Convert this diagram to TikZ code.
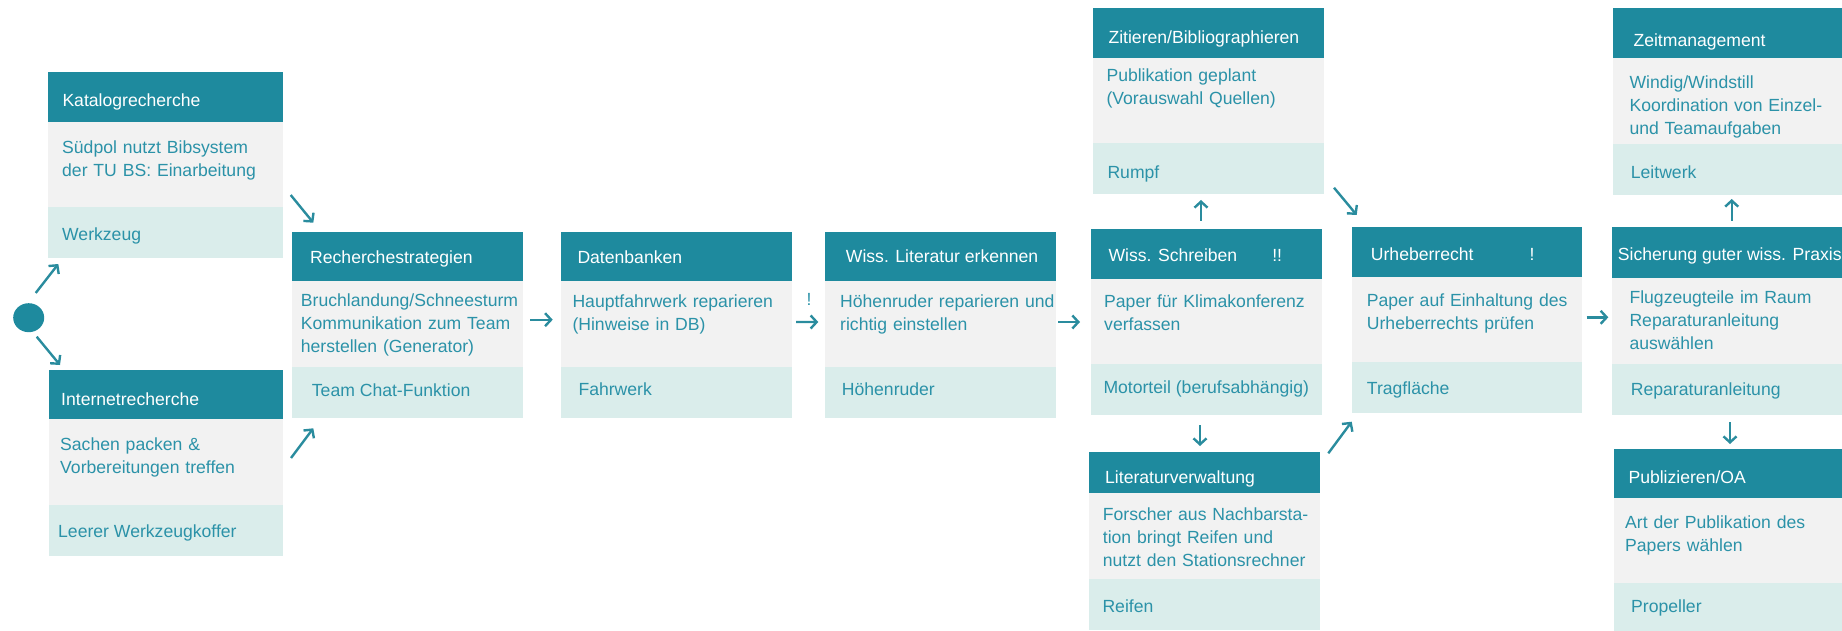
\documentclass[tikz,border=0pt]{standalone}
\usepackage{fontspec}
\setmainfont{Liberation Sans}
\usetikzlibrary{calc,arrows.meta,shapes.geometric}
\definecolor{hdr}{HTML}{1E8A9E}
\definecolor{bodyc}{HTML}{F2F2F2}
\definecolor{footc}{HTML}{DAEDEB}
\definecolor{txt}{HTML}{2B92A8}
\definecolor{arrc}{HTML}{2A8C9E}

\pgfkeys{/card/.cd, hx/.initial=15, hy/.initial=34, bx/.initial=13, by/.initial=27, fx/.initial=15, fy/.initial=31}

\tikzset{
  every node/.style={font=\fontsize{17.6}{23}\selectfont},
  boxbase/.style={anchor=north west, inner sep=0pt, outer sep=0pt, draw=none},
  cardframe/.style={boxbase},
  hdrbox/.style={boxbase, fill=hdr},
  bodybox/.style={boxbase, fill=bodyc, minimum height=85.7},
  footbox/.style={boxbase, fill=footc, minimum height=51},
  hdrtext/.style={anchor=base west, inner sep=0pt, text=white},
  bodytext/.style={anchor=base west, inner sep=0pt, text=txt, text width=240pt, align=left},
  foottext/.style={anchor=base west, inner sep=0pt, text=txt},
  marktext/.style={anchor=base west, inner sep=0pt, text=txt},
  startdot/.style={ellipse, fill=hdr, draw=none, inner sep=0pt, minimum width=31, minimum height=29},
  arr/.style={draw=arrc, line width=2.4pt, -{Straight Barb[length=6pt,width=13pt]}},
}

% #1 options, #2 name, #3 x, #4 y, #5 width, #6 header height, #7 header, #8 body, #9 footer
\newcommand\card[9][]{%
  \begingroup
  \pgfkeys{/card/.cd,#1}%
  \edef\chx{\pgfkeysvalueof{/card/hx}}%
  \edef\chy{\pgfkeysvalueof{/card/hy}}%
  \edef\cbx{\pgfkeysvalueof{/card/bx}}%
  \edef\cby{\pgfkeysvalueof{/card/by}}%
  \edef\cfx{\pgfkeysvalueof{/card/fx}}%
  \edef\cfy{\pgfkeysvalueof{/card/fy}}%
  \node[cardframe, minimum width=#5, minimum height=#6+136.7] (#2) at (#3,#4) {};
  \node[hdrbox, minimum width=#5, minimum height=#6] (#2-h) at (#3,#4) {};
  \node[bodybox, minimum width=#5] (#2-b) at (#2-h.south west) {};
  \node[footbox, minimum width=#5] (#2-f) at (#2-b.south west) {};
  \node[hdrtext] (#2-ht) at ($(#2-h.north west)+(\chx,\chy)$) {#7};
  \node[bodytext] (#2-bt) at ($(#2-b.north west)+(\cbx,\cby)$) {#8};
  \node[foottext] (#2-ft) at ($(#2-f.north west)+(\cfx,\cfy)$) {#9};
  \endgroup}

\begin{document}
\begin{tikzpicture}[x=1pt,y=-1pt]
\useasboundingbox (0,0) rectangle (1842,631);
\clip (0,0) rectangle (1842,631);

\node[startdot] (start) at (28.7,317.7) {};

\card[hx=14.3,hy=34.4,bx=14,by=32.3,fx=14,fy=33.3]{kat}{48}{72.3}{235}{49.4}
  {Katalogrecherche}{Südpol nutzt Bibsystem\\der TU BS: Einarbeitung}{Werkzeug}
\card[hx=12,hy=35,bx=11,by=31,fx=9,fy=32.6]{int}{49}{370}{234}{49}
  {Internetrecherche}{Sachen packen \&\\Vorbereitungen treffen}{Leerer Werkzeugkoffer}
\card[hx=17.7,hy=31.7,bx=8.4,by=25,fx=19.4,fy=30]{rech}{292.3}{232}{231}{49}
  {Recherchestrategien}{Bruchlandung/Schneesturm\\Kommunikation zum Team\\herstellen (Generator)}{Team Chat-Funktion}
\card[hx=16.6,hy=31.7,bx=11.6,by=26,fx=17.6,fy=28.3]{dat}{560.7}{232}{231}{49.3}
  {Datenbanken}{Hauptfahrwerk reparieren\\(Hinweise in DB)}{Fahrwerk}
\card[hx=20.7,hy=30.5,bx=15,by=26,fx=16.7,fy=28.3]{wiss}{825}{232}{231}{49}
  {Wiss. Literatur erkennen}{Höhenruder reparieren und\\richtig einstellen}{Höhenruder}
\card[hx=17.3,hy=32,bx=13,by=28.3,fx=12.3,fy=29]{schr}{1091}{229.3}{230.8}{49.4}
  {Wiss. Schreiben\hspace{35pt}!!}{Paper für Klimakonferenz\\verfassen}{Motorteil (berufsabhängig)}
\card[hx=15,hy=35.7,bx=13,by=24,fx=14,fy=35]{zit}{1093.3}{8.3}{231}{49.4}
  {Zitieren/Bibliographieren}{Publikation geplant\\(Vorauswahl Quellen)}{Rumpf}
\card[hx=15.7,hy=31.7,bx=13.4,by=26.7,fx=13,fy=33.7]{lit}{1089.3}{451.7}{230.7}{41.6}
  {Literaturverwaltung}{Forscher aus Nachbarsta-\\tion bringt Reifen und\\nutzt den Stationsrechner}{Reifen}
\card[hx=18.7,hy=34,bx=14.7,by=29.3,fx=14.7,fy=32.5]{urh}{1352}{226.7}{230.3}{50}
  {Urheberrecht\hspace{56pt}!}{Paper auf Einhaltung des\\Urheberrechts prüfen}{Tragfläche}
\card[hx=6,hy=33.4,bx=17.6,by=25,fx=19,fy=31.7]{sich}{1611.7}{227.3}{240}{51}
  {Sicherung guter wiss. Praxis}{Flugzeugteile im Raum\\Reparaturanleitung\\auswählen}{Reparaturanleitung}
\card[hx=20,hy=38.4,bx=16,by=30,fx=17.4,fy=34.3]{zeit}{1613.3}{8.3}{240}{50}
  {Zeitmanagement}{Windig/Windstill\\Koordination von Einzel-\\und Teamaufgaben}{Leitwerk}
\card[hx=14,hy=34,bx=10.7,by=30.6,fx=16.7,fy=28.7]{pub}{1614.3}{449.3}{240}{48.4}
  {Publizieren/OA}{Art der Publikation des\\Papers wählen}{Propeller}

\node[marktext] (excl) at (806.5,305) {!};

\draw[arr] ($(start)+(7,-24.7)$) -- ($(kat.south west)+(10.3,5.6)$);
\draw[arr] ($(start)+(8,19)$) -- ($(int.north west)+(11,-5)$);
\draw[arr] ($(kat.south east)+(7.7,-63.4)$) -- ($(rech.north west)+(21,-9.3)$);
\draw[arr] ($(int.north east)+(8,88)$) -- ($(rech.south west)+(21,10.6)$);
\draw[arr] ($(rech.east)+(6.7,-5.15)$) -- ($(dat.west)+(-8,-5.3)$);
\draw[arr] ($(dat.east)+(4.3,-3)$) -- ($(wiss.west)+(-6.7,-2.85)$);
\draw[arr] ($(wiss.east)+(2.3,-2.85)$) -- ($(schr.west)+(-11,-0.35)$);
\draw[arr] ($(schr.north)+(-5.4,-8.3)$) -- ($(zit.south)+(-7.8,5.6)$);
\draw[arr] ($(schr.south)+(-6.4,9.6)$) -- ($(lit.north)+(-4.65,-5.7)$);
\draw[arr] ($(zit.south east)+(9.7,-6.7)$) -- ($(urh.north west)+(4.7,-11.7)$);
\draw[arr] ($(lit.north east)+(8.3,1.6)$) -- ($(urh.south west)+(-0.3,8.3)$);
\draw[arr] ($(urh.east)+(4.4,-2.75)$) -- ($(sich.west)+(-3.4,-3.85)$);
\draw[arr] ($(sich.north)+(0,-6.3)$) -- ($(zeit.south)+(-1.6,4)$);
\draw[arr] ($(sich.south)+(-1.7,7)$) -- ($(pub.north)+(-4.3,-5.3)$);
\end{tikzpicture}
\end{document}
